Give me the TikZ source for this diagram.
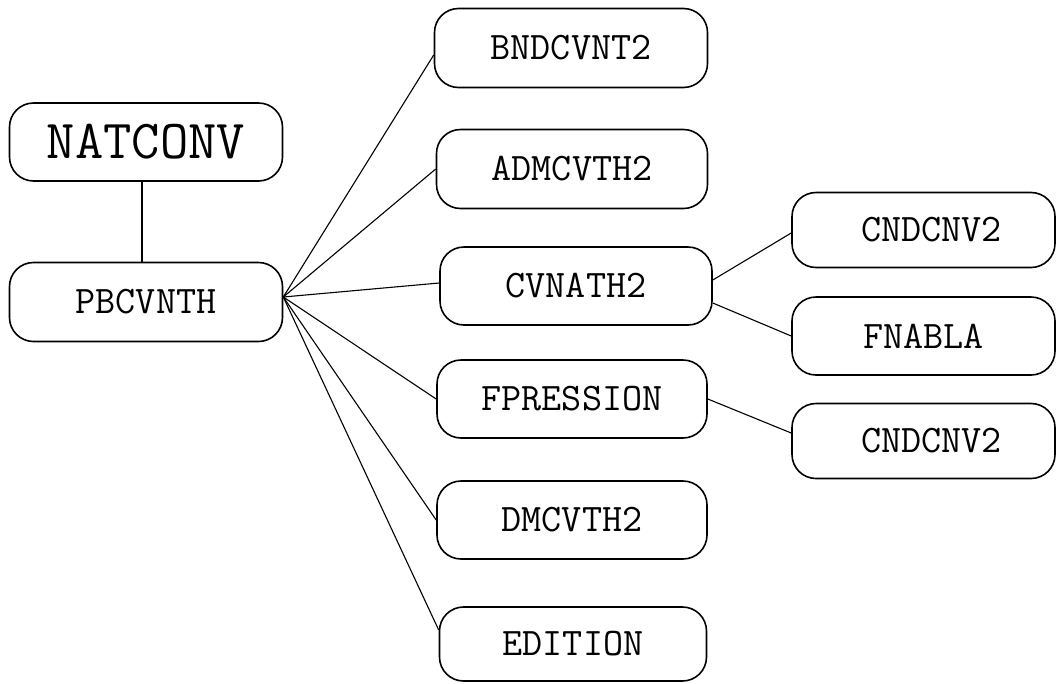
\documentclass[tikz,border=0pt]{standalone}
\usepackage{fontspec}
\begin{document}
\begin{tikzpicture}[x=1pt,y=-1pt,
  box/.style={draw, line width=1.6pt, rounded corners=24pt, minimum width=270pt, minimum height=78pt, inner sep=0pt, font=\ttfamily\fontsize{39}{42}\selectfont},
  link/.style={line width=1.1pt}]
\useasboundingbox (0,0) rectangle (1057,683);
\node[box, minimum width=273pt, font=\ttfamily\fontsize{55}{58}\selectfont] (nat) at (146,142) {NATCONV};
\node[box, minimum width=273pt, minimum height=79pt] (pb) at (146,302) {PBCVNTH};
\node[box, minimum width=273pt, minimum height=79pt] (bnd) at (571,48) {BNDCVNT2};
\node[box, minimum width=271pt, minimum height=79pt] (adm) at (572,169) {ADMCVTH2};
\node[box, minimum width=272pt] (cv) at (576,286) {CVNATH2};
\node[box] (fp) at (572,399) {FPRESSION};
\node[box] (dm) at (572,520) {DMCVTH2};
\node[box, minimum width=267pt, minimum height=74pt] (ed) at (573,644) {EDITION};
\node[box, minimum width=263pt, minimum height=75pt] (cn1) at (923.5,230) {\hspace{16pt}CNDCNV2};
\node[box, minimum width=263pt] (fn) at (923.5,336) {FNABLA};
\node[box, minimum width=263pt, minimum height=75pt] (cn2) at (923.5,441) {\hspace{16pt}CNDCNV2};
\coordinate (hub) at ([yshift=5pt]pb.east);
\draw[link] ([xshift=-4pt]nat.south) -- ([xshift=-4pt]pb.north);
\draw[link] (hub) -- ([yshift=-7pt]bnd.west);
\draw[link] (hub) -- (adm.west);
\draw[link] (hub) -- ([yshift=3pt]cv.west);
\draw[link] (hub) -- (fp.west);
\draw[link] (hub) -- (dm.west);
\draw[link] (hub) -- ([yshift=14pt]ed.west);
\draw[link] ([yshift=6pt]cv.east) -- ([yshift=-3pt]cn1.west);
\draw[link] ([yshift=-17pt]cv.east) -- (fn.west);
\draw[link] (fp.east) -- ([yshift=8pt]cn2.west);
\end{tikzpicture}
\end{document}
